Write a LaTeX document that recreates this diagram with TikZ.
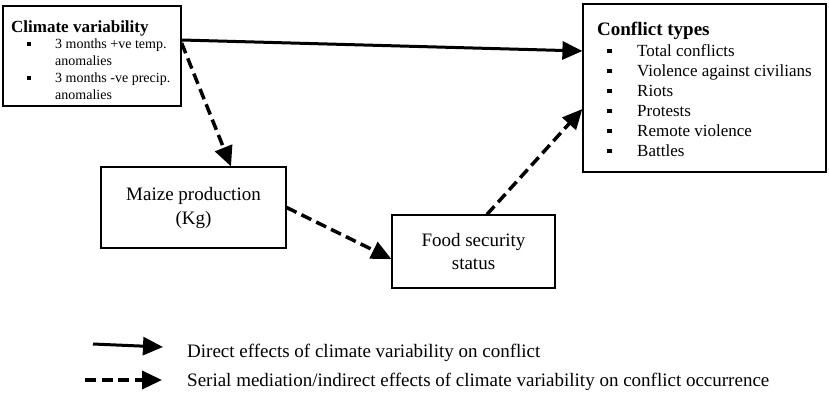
\documentclass[tikz,border=0pt]{standalone}
\usepackage{fontspec}
\setmainfont{Liberation Serif}
\usetikzlibrary{arrows.meta}
\tikzset{
  box/.style={draw=black, line width=1.2pt, fill=white, inner sep=0pt},
  arr/.style={line width=3pt, -{Triangle[length=20pt,width=18pt]}},
  dasharr/.style={arr, line width=3.5pt, dash pattern=on 11pt off 5.5pt},
  bul/.style={fill=black, inner sep=0pt},
  txt/.style={anchor=base west, inner sep=0pt},
}
\begin{document}
\begin{tikzpicture}[x=1pt,y=1pt]
\useasboundingbox (0,0) rectangle (829,-394);

% boxes
\node[box, minimum width=178pt, minimum height=100pt] (clim) at (92,-56) {};
\node[box, minimum width=243pt, minimum height=168pt] (conf) at (704.5,-88) {};
\node[box, minimum width=185pt, minimum height=81pt, align=center,
      font=\fontsize{19}{24}\selectfont] (maize) at (193.5,-207.5) {Maize production\\(Kg)};
\node[box, minimum width=163pt, minimum height=73pt, align=center,
      font=\fontsize{19}{23}\selectfont] (food) at (473.5,-251.5) {Food security\\status};

% climate box text
\node[txt, font=\fontsize{17}{20}\selectfont\bfseries] (ct) at (11,-32.5) {Climate variability};
\foreach \y/\t [count=\i] in {-48/{3 months +ve temp.}, -65/{anomalies}, -82/{3 months -ve precip.}, -99/{anomalies}}{
  \node[txt, font=\fontsize{14}{17}\selectfont] (ci\i) at (55,\y) {\t};
}
\node[bul, minimum size=4pt] (cb1) at (29,-44) {};
\node[bul, minimum size=4pt] (cb2) at (29,-78) {};

% conflict box text
\node[txt, font=\fontsize{19}{22}\selectfont\bfseries] (kt) at (597,-35) {Conflict types};
\foreach \y/\t [count=\i] in {-56/{Total conflicts}, -76/{Violence against civilians}, -96/{Riots}, -116/{Protests}, -136/{Remote violence}, -156/{Battles}}{
  \node[txt, font=\fontsize{17}{20}\selectfont] (ki\i) at (637,\y) {\t};
  \node[bul, minimum size=4.5pt] (kb\i) at (609.5,\y+5) {};
}

% connectors
\draw[arr] ([yshift=16pt]clim.east) -- ([yshift=37pt]conf.west);
\draw[dasharr] ([yshift=13pt]clim.east) -- ([xshift=37.5pt]maize.north);
\draw[dasharr] (maize.east) -- ([yshift=-7.5pt]food.west);
\draw[dasharr] ([xshift=13.5pt]food.north) -- ([yshift=-21pt]conf.west);

% legend
\coordinate (l1a) at (93,-344);
\coordinate (l1b) at (163,-347);
\coordinate (l2a) at (85,-380);
\coordinate (l2b) at (162,-380);
\draw[arr] (l1a) -- (l1b);
\draw[dasharr] (l2a) -- (l2b);
\node[txt, font=\fontsize{19}{22}\selectfont] (lt1) at (187,-357) {Direct effects of climate variability on conflict};
\node[txt, font=\fontsize{19}{22}\selectfont] (lt2) at (187,-386) {Serial mediation/indirect effects of climate variability on conflict occurrence};
\end{tikzpicture}
\end{document}
